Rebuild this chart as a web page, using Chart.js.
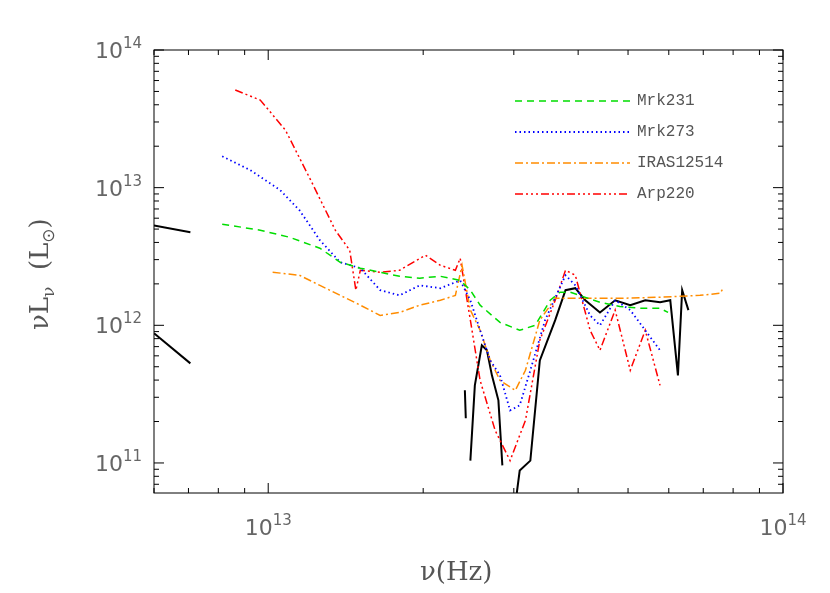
<!DOCTYPE html><html><head><script src="https://cdn.jsdelivr.net/npm/chart.js@4"></script>
<style>body{margin:0;background:#fff}</style></head><body><canvas id="c" width="830" height="593"></canvas><script>
const mrk231X=[8.14e12,9.65e12,1.10e13,1.26e13,1.38e13,1.51e13,1.65e13,1.80e13,1.97e13,2.16e13,2.36e13,2.47e13,2.58e13,2.82e13,3.08e13,3.30e13,3.53e13,3.69e13,3.86e13,4.41e13,4.82e13,5.27e13,5.77e13,5.98e13];
const mrk231Y=[5.43e12,4.91e12,4.36e12,3.63e12,2.87e12,2.60e12,2.43e12,2.27e12,2.20e12,2.27e12,2.12e12,1.80e12,1.40e12,1.05e12,9.2e11,1.0e12,1.52e12,1.74e12,1.74e12,1.47e12,1.37e12,1.33e12,1.33e12,1.24e12];
const mrk273X=[8.14e12,9.23e12,1.055e13,1.15e13,1.26e13,1.38e13,1.51e13,1.65e13,1.80e13,1.97e13,2.16e13,2.36e13,2.47e13,2.58e13,2.70e13,2.82e13,2.95e13,3.08e13,3.23e13,3.45e13,3.78e13,3.95e13,4.22e13,4.41e13,4.72e13,5.05e13,5.40e13,5.77e13];
const mrk273Y=[1.69e13,1.34e13,9.6e12,6.86e12,4.15e12,2.87e12,2.60e12,1.80e12,1.65e12,1.95e12,1.86e12,2.12e12,1.52e12,9.2e11,5.56e11,4.33e11,2.41e11,2.62e11,4.71e11,1.09e12,2.31e12,1.95e12,1.18e12,1.0e12,1.52e12,1.29e12,9.2e11,6.58e11];
const irasX=[1.02e13,1.15e13,1.26e13,1.38e13,1.51e13,1.65e13,1.80e13,1.97e13,2.16e13,2.31e13,2.38e13,2.47e13,2.58e13,2.70e13,2.82e13,3.02e13,3.16e13,3.37e13,3.61e13,4.04e13,4.82e13,5.77e13,6.90e13,7.55e13,7.65e13];
const irasY=[2.43e12,2.31e12,1.95e12,1.65e12,1.40e12,1.18e12,1.24e12,1.40e12,1.52e12,1.65e12,2.73e12,1.29e12,9.2e11,5.56e11,3.98e11,3.37e11,4.71e11,1.09e12,1.57e12,1.57e12,1.57e12,1.60e12,1.65e12,1.71e12,1.86e12];
const arpX=[8.63e12,9.65e12,1.08e13,1.21e13,1.35e13,1.44e13,1.48e13,1.51e13,1.65e13,1.80e13,2.02e13,2.16e13,2.31e13,2.36e13,2.47e13,2.58e13,2.76e13,2.95e13,3.16e13,3.37e13,3.61e13,3.78e13,3.95e13,4.22e13,4.41e13,4.72e13,5.05e13,5.40e13,5.77e13];
const arpY=[5.12e13,4.33e13,2.62e13,1.13e13,4.91e12,3.51e12,1.80e12,2.51e12,2.43e12,2.51e12,3.23e12,2.73e12,2.51e12,3.07e12,1.09e12,3.98e11,1.72e11,1.04e11,2.04e11,7.78e11,1.52e12,2.51e12,2.31e12,9.2e11,6.58e11,1.29e12,4.71e11,9.2e11,3.66e11];
const blkAX=[6.0e12,7.06e12], blkAY=[5.3e12,4.75e12];
const blkBX=[6.0e12,7.06e12], blkBY=[8.75e11,5.29e11];
const blkCX=[2.41e13,2.42e13,null,2.47e13,2.52e13,2.60e13,2.66e13,2.72e13,2.80e13,2.85e13];
const blkCY=[3.37e11,2.11e11,null,1.04e11,3.66e11,7.16e11,6.58e11,4.33e11,2.85e11,9.6e10];
const blkDX=[3.04e13,3.08e13,3.23e13,3.37e13,3.61e13,3.78e13,3.95e13,4.13e13,4.41e13,4.72e13,5.05e13,5.40e13,5.77e13,6.04e13,6.25e13,6.37e13,6.55e13];
const blkDY=[6.05e10,8.8e10,1.04e11,5.56e11,1.09e12,1.80e12,1.86e12,1.52e12,1.24e12,1.52e12,1.40e12,1.52e12,1.47e12,1.52e12,4.33e11,1.80e12,1.29e12];
const xTicks=[13,14], yTicks=[11,12,13,14];
const pts=(X,Y)=>X.map((x,i)=>({x:x,y:Y[i]}));
const ds=(label,X,Y,c,dash,w,leg)=>({label,data:pts(X,Y),borderColor:c,borderDash:dash,borderWidth:w,pointRadius:0,showLine:true,fill:false,tension:0,spanGaps:false,leg});
const datasets=[
 ds('Mrk231',mrk231X,mrk231Y,'#00dd00',[7,5],1.5,true),
 ds('Mrk273',mrk273X,mrk273Y,'#0000ff',[1.5,3],1.8,true),
 ds('IRAS12514',irasX,irasY,'#ff8c00',[8,3,2,3],1.5,true),
 ds('Arp220',arpX,arpY,'#ff0000',[8,3,2,3,2,3,2,3],1.5,true),
 ds('a',blkAX,blkAY,'#000',[],2,false),ds('b',blkBX,blkBY,'#000',[],2,false),
 ds('c',blkCX,blkCY,'#000',[],2,false),ds('d',blkDX,blkDY,'#000',[],2,false)];
const deco={id:'deco',afterDraw(ch){const c=ch.ctx,a=ch.chartArea,xs=ch.scales.x,ys=ch.scales.y;
 c.save();c.strokeStyle='#000';c.lineWidth=1;c.setLineDash([]);c.strokeRect(a.left,a.top,a.right-a.left,a.bottom-a.top);
 c.beginPath();
 for(let e=12;e<=14;e++)for(let m=1;m<10;m++){const v=m*Math.pow(10,e);if(v<xs.min||v>xs.max)continue;const p=xs.getPixelForValue(v),L=m==1?10:5;c.moveTo(p,a.bottom);c.lineTo(p,a.bottom-L);c.moveTo(p,a.top);c.lineTo(p,a.top+L);}
 for(let e=10;e<=14;e++)for(let m=1;m<10;m++){const v=m*Math.pow(10,e);if(v<ys.min||v>ys.max)continue;const p=ys.getPixelForValue(v),L=m==1?10:5;c.moveTo(a.left,p);c.lineTo(a.left+L,p);c.moveTo(a.right,p);c.lineTo(a.right-L,p);}
 c.stroke();
 c.fillStyle='#666';
 const pw=(x,y,e,al)=>{c.font='22px "DejaVu Sans"';const w1=c.measureText('10').width;c.font='15px "DejaVu Sans"';const w2=c.measureText(String(e)).width;let x0=al=='r'?x-w1-w2:x-(w1+w2)/2;c.textBaseline='alphabetic';c.textAlign='left';c.font='22px "DejaVu Sans"';c.fillText('10',x0,y);c.font='15px "DejaVu Sans"';c.fillText(String(e),x0+w1,y-10);};
 xTicks.forEach(e=>pw(xs.getPixelForValue(Math.pow(10,e)),a.bottom+42,e,'c'));
 yTicks.forEach(e=>pw(a.left-12,ys.getPixelForValue(Math.pow(10,e))+8,e,'r'));
 c.fillStyle='#555';
 c.font='26px "DejaVu Serif"';c.textAlign='left';c.fillText('ν(Hz)',420,580);
 c.save();c.translate(48,330);c.rotate(-Math.PI/2);c.font='26px "DejaVu Serif"';
 c.fillText('νL',0,0);let w=c.measureText('νL').width;c.font='17px "DejaVu Serif"';c.fillText('ν',w,6);w+=c.measureText('ν').width;c.font='26px "DejaVu Serif"';c.fillText('  (L',w,0);w+=c.measureText('  (L').width;c.font='17px "DejaVu Sans"';c.fillText('⊙',w,6);w+=c.measureText('⊙').width;c.font='26px "DejaVu Serif"';c.fillText(')',w,0);c.restore();
 let yy=101;c.font='16px "Liberation Mono"';c.textBaseline='middle';
 ch.data.datasets.filter(d=>d.leg).forEach(d=>{c.strokeStyle=d.borderColor;c.lineWidth=d.borderWidth;c.setLineDash(d.borderDash);c.beginPath();c.moveTo(515,yy);c.lineTo(630,yy);c.stroke();c.fillStyle='#555';c.fillText(d.label,637,yy);yy+=31;});
 c.restore();}};
new Chart(document.getElementById('c'),{type:'scatter',data:{datasets},plugins:[deco],options:{responsive:false,animation:false,
 layout:{padding:{left:146,right:47,top:50,bottom:92}},plugins:{legend:{display:false},tooltip:{enabled:false}},
 scales:{x:{type:'logarithmic',min:6.0e12,max:1e14,ticks:{display:false},grid:{display:false},border:{display:false}},
 y:{type:'logarithmic',min:6.05e10,max:1e14,ticks:{display:false},grid:{display:false},border:{display:false}}}}});
</script></body></html>
